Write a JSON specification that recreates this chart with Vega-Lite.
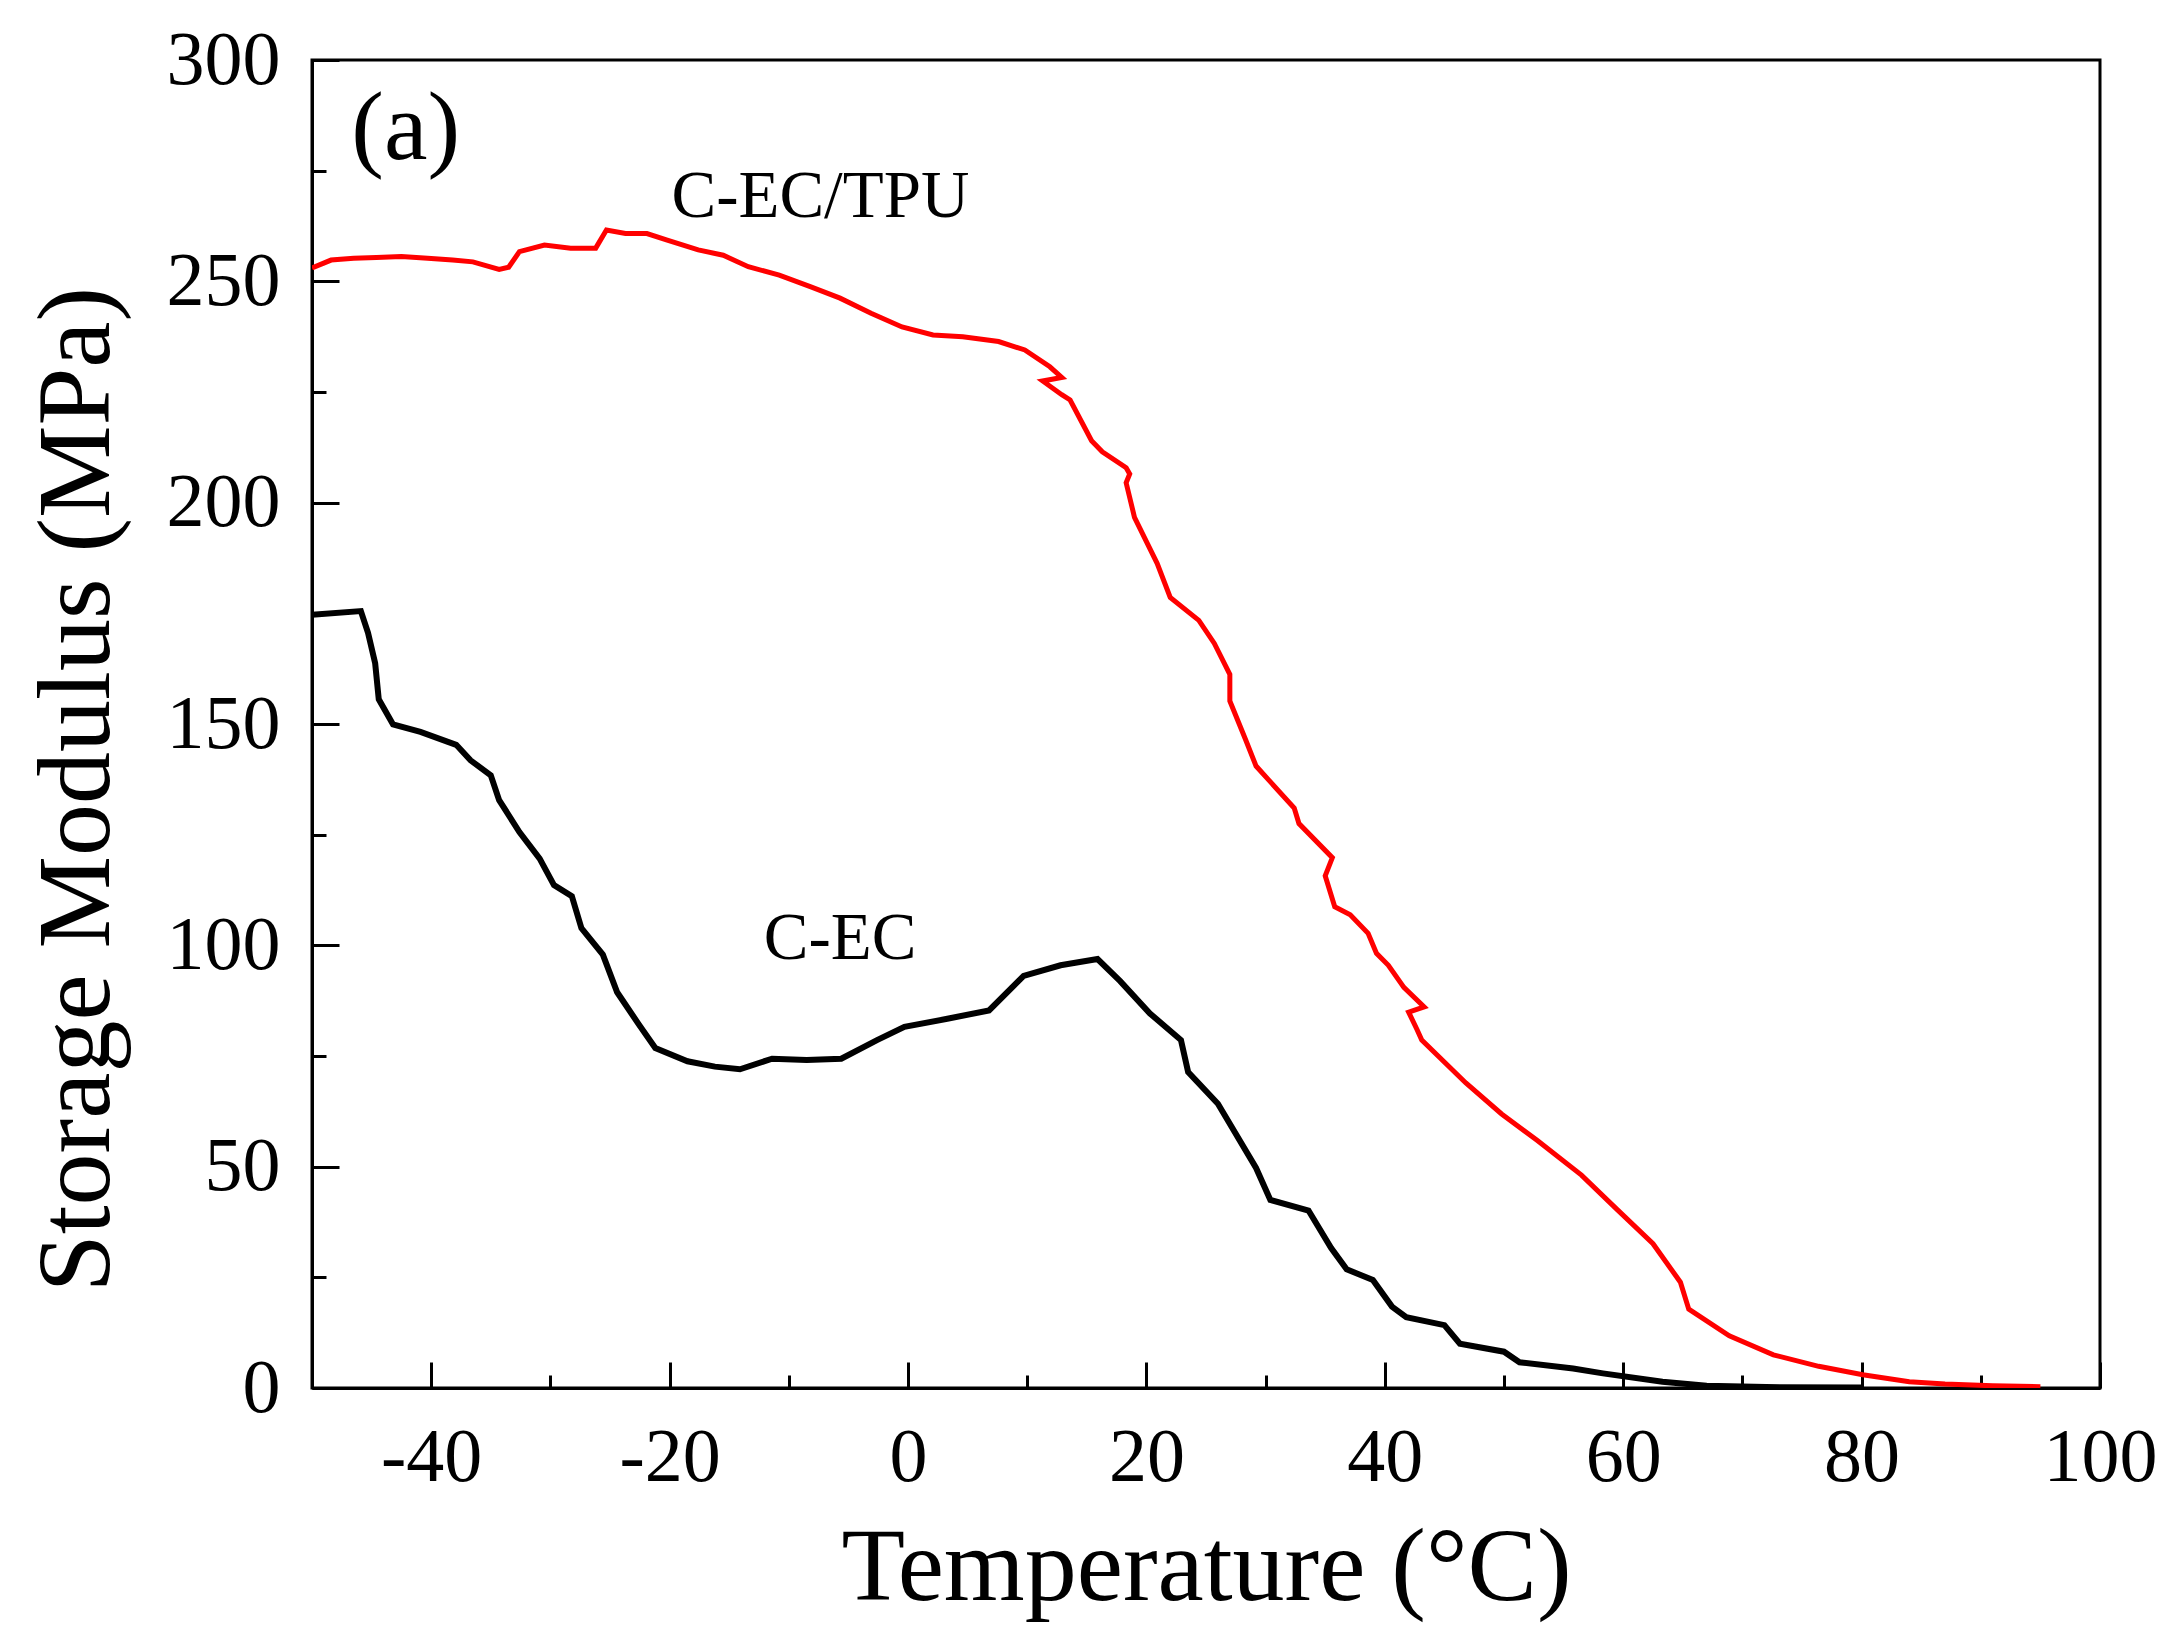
{
  "$schema": "https://vega.github.io/schema/vega-lite/v6.json",
  "autosize": "none",
  "padding": {"left": 312, "top": 60, "right": 80, "bottom": 248},
  "width": 1788,
  "height": 1328,
  "background": "white",
  "config": {
    "view": {"stroke": "black", "strokeWidth": 3},
    "font": "Liberation Serif"
  },
  "datasets": {
    "curves": [
      {"sample": "C-EC/TPU", "i": 0, "T": -50, "E": 253.0},
      {"sample": "C-EC/TPU", "i": 1, "T": -48.4, "E": 254.8},
      {"sample": "C-EC/TPU", "i": 2, "T": -46.5, "E": 255.2},
      {"sample": "C-EC/TPU", "i": 3, "T": -44.6, "E": 255.4},
      {"sample": "C-EC/TPU", "i": 4, "T": -42.5, "E": 255.6},
      {"sample": "C-EC/TPU", "i": 5, "T": -40.3, "E": 255.2},
      {"sample": "C-EC/TPU", "i": 6, "T": -38.2, "E": 254.8},
      {"sample": "C-EC/TPU", "i": 7, "T": -36.5, "E": 254.4},
      {"sample": "C-EC/TPU", "i": 8, "T": -34.3, "E": 252.7},
      {"sample": "C-EC/TPU", "i": 9, "T": -33.5, "E": 253.2},
      {"sample": "C-EC/TPU", "i": 10, "T": -32.6, "E": 256.7},
      {"sample": "C-EC/TPU", "i": 11, "T": -30.5, "E": 258.2},
      {"sample": "C-EC/TPU", "i": 12, "T": -28.3, "E": 257.5},
      {"sample": "C-EC/TPU", "i": 13, "T": -26.2, "E": 257.5},
      {"sample": "C-EC/TPU", "i": 14, "T": -25.3, "E": 261.6},
      {"sample": "C-EC/TPU", "i": 15, "T": -23.7, "E": 260.8},
      {"sample": "C-EC/TPU", "i": 16, "T": -21.9, "E": 260.8},
      {"sample": "C-EC/TPU", "i": 17, "T": -20.2, "E": 259.3},
      {"sample": "C-EC/TPU", "i": 18, "T": -17.6, "E": 257.1},
      {"sample": "C-EC/TPU", "i": 19, "T": -15.5, "E": 255.9},
      {"sample": "C-EC/TPU", "i": 20, "T": -13.4, "E": 253.3},
      {"sample": "C-EC/TPU", "i": 21, "T": -10.8, "E": 251.4},
      {"sample": "C-EC/TPU", "i": 22, "T": -8.2, "E": 248.8},
      {"sample": "C-EC/TPU", "i": 23, "T": -5.7, "E": 246.2},
      {"sample": "C-EC/TPU", "i": 24, "T": -3.1, "E": 242.8},
      {"sample": "C-EC/TPU", "i": 25, "T": -0.5, "E": 239.7},
      {"sample": "C-EC/TPU", "i": 26, "T": 2.1, "E": 237.9},
      {"sample": "C-EC/TPU", "i": 27, "T": 4.6, "E": 237.5},
      {"sample": "C-EC/TPU", "i": 28, "T": 7.6, "E": 236.4},
      {"sample": "C-EC/TPU", "i": 29, "T": 9.8, "E": 234.5},
      {"sample": "C-EC/TPU", "i": 30, "T": 11.9, "E": 230.7},
      {"sample": "C-EC/TPU", "i": 31, "T": 12.9, "E": 228.3},
      {"sample": "C-EC/TPU", "i": 32, "T": 11.3, "E": 227.5},
      {"sample": "C-EC/TPU", "i": 33, "T": 12.9, "E": 224.4},
      {"sample": "C-EC/TPU", "i": 34, "T": 13.6, "E": 223.2},
      {"sample": "C-EC/TPU", "i": 35, "T": 15.4, "E": 214.0},
      {"sample": "C-EC/TPU", "i": 36, "T": 16.3, "E": 211.5},
      {"sample": "C-EC/TPU", "i": 37, "T": 18.3, "E": 207.9},
      {"sample": "C-EC/TPU", "i": 38, "T": 18.6, "E": 206.5},
      {"sample": "C-EC/TPU", "i": 39, "T": 18.3, "E": 204.5},
      {"sample": "C-EC/TPU", "i": 40, "T": 19.0, "E": 196.7},
      {"sample": "C-EC/TPU", "i": 41, "T": 20.9, "E": 186.3},
      {"sample": "C-EC/TPU", "i": 42, "T": 22.0, "E": 178.6},
      {"sample": "C-EC/TPU", "i": 43, "T": 24.4, "E": 173.4},
      {"sample": "C-EC/TPU", "i": 44, "T": 25.7, "E": 168.2},
      {"sample": "C-EC/TPU", "i": 45, "T": 27.0, "E": 161.2},
      {"sample": "C-EC/TPU", "i": 46, "T": 27.0, "E": 155.2},
      {"sample": "C-EC/TPU", "i": 47, "T": 28.3, "E": 146.6},
      {"sample": "C-EC/TPU", "i": 48, "T": 29.2, "E": 140.5},
      {"sample": "C-EC/TPU", "i": 49, "T": 32.4, "E": 131.0},
      {"sample": "C-EC/TPU", "i": 50, "T": 32.8, "E": 127.5},
      {"sample": "C-EC/TPU", "i": 51, "T": 35.6, "E": 119.8},
      {"sample": "C-EC/TPU", "i": 52, "T": 35.0, "E": 115.7},
      {"sample": "C-EC/TPU", "i": 53, "T": 35.8, "E": 108.7},
      {"sample": "C-EC/TPU", "i": 54, "T": 37.1, "E": 106.9},
      {"sample": "C-EC/TPU", "i": 55, "T": 38.6, "E": 102.7},
      {"sample": "C-EC/TPU", "i": 56, "T": 39.3, "E": 98.2},
      {"sample": "C-EC/TPU", "i": 57, "T": 40.3, "E": 95.5},
      {"sample": "C-EC/TPU", "i": 58, "T": 41.6, "E": 90.5},
      {"sample": "C-EC/TPU", "i": 59, "T": 43.3, "E": 86.1},
      {"sample": "C-EC/TPU", "i": 60, "T": 42.0, "E": 84.9},
      {"sample": "C-EC/TPU", "i": 61, "T": 42.7, "E": 81.0},
      {"sample": "C-EC/TPU", "i": 62, "T": 43.1, "E": 78.6},
      {"sample": "C-EC/TPU", "i": 63, "T": 46.8, "E": 68.9},
      {"sample": "C-EC/TPU", "i": 64, "T": 49.8, "E": 61.9},
      {"sample": "C-EC/TPU", "i": 65, "T": 52.8, "E": 55.9},
      {"sample": "C-EC/TPU", "i": 66, "T": 56.5, "E": 48.1},
      {"sample": "C-EC/TPU", "i": 67, "T": 59.5, "E": 40.3},
      {"sample": "C-EC/TPU", "i": 68, "T": 62.5, "E": 32.6},
      {"sample": "C-EC/TPU", "i": 69, "T": 64.8, "E": 23.9},
      {"sample": "C-EC/TPU", "i": 70, "T": 65.5, "E": 17.8},
      {"sample": "C-EC/TPU", "i": 71, "T": 68.9, "E": 11.8},
      {"sample": "C-EC/TPU", "i": 72, "T": 72.6, "E": 7.5},
      {"sample": "C-EC/TPU", "i": 73, "T": 76.4, "E": 4.9},
      {"sample": "C-EC/TPU", "i": 74, "T": 80.1, "E": 3.0},
      {"sample": "C-EC/TPU", "i": 75, "T": 84.0, "E": 1.4},
      {"sample": "C-EC/TPU", "i": 76, "T": 87.0, "E": 0.9},
      {"sample": "C-EC/TPU", "i": 77, "T": 91.0, "E": 0.5},
      {"sample": "C-EC/TPU", "i": 78, "T": 95.0, "E": 0.3},
      {"sample": "C-EC", "i": 0, "T": -50, "E": 174.7},
      {"sample": "C-EC", "i": 1, "T": -45.9, "E": 175.5},
      {"sample": "C-EC", "i": 2, "T": -45.3, "E": 170.6},
      {"sample": "C-EC", "i": 3, "T": -44.7, "E": 163.7},
      {"sample": "C-EC", "i": 4, "T": -44.4, "E": 155.6},
      {"sample": "C-EC", "i": 5, "T": -43.2, "E": 149.9},
      {"sample": "C-EC", "i": 6, "T": -40.9, "E": 148.2},
      {"sample": "C-EC", "i": 7, "T": -37.9, "E": 145.3},
      {"sample": "C-EC", "i": 8, "T": -36.7, "E": 141.8},
      {"sample": "C-EC", "i": 9, "T": -35.0, "E": 138.4},
      {"sample": "C-EC", "i": 10, "T": -34.3, "E": 132.8},
      {"sample": "C-EC", "i": 11, "T": -32.6, "E": 125.6},
      {"sample": "C-EC", "i": 12, "T": -30.9, "E": 119.6},
      {"sample": "C-EC", "i": 13, "T": -29.7, "E": 113.6},
      {"sample": "C-EC", "i": 14, "T": -28.2, "E": 111.1},
      {"sample": "C-EC", "i": 15, "T": -27.4, "E": 103.9},
      {"sample": "C-EC", "i": 16, "T": -25.6, "E": 97.9},
      {"sample": "C-EC", "i": 17, "T": -24.4, "E": 89.4},
      {"sample": "C-EC", "i": 18, "T": -22.6, "E": 82.2},
      {"sample": "C-EC", "i": 19, "T": -21.2, "E": 76.8},
      {"sample": "C-EC", "i": 20, "T": -18.5, "E": 73.8},
      {"sample": "C-EC", "i": 21, "T": -16.2, "E": 72.6},
      {"sample": "C-EC", "i": 22, "T": -14.1, "E": 72.0},
      {"sample": "C-EC", "i": 23, "T": -11.4, "E": 74.4},
      {"sample": "C-EC", "i": 24, "T": -8.5, "E": 74.1},
      {"sample": "C-EC", "i": 25, "T": -5.6, "E": 74.4},
      {"sample": "C-EC", "i": 26, "T": -2.6, "E": 78.6},
      {"sample": "C-EC", "i": 27, "T": -0.3, "E": 81.6},
      {"sample": "C-EC", "i": 28, "T": 3.3, "E": 83.4},
      {"sample": "C-EC", "i": 29, "T": 6.8, "E": 85.3},
      {"sample": "C-EC", "i": 30, "T": 9.7, "E": 93.1},
      {"sample": "C-EC", "i": 31, "T": 12.8, "E": 95.5},
      {"sample": "C-EC", "i": 32, "T": 15.9, "E": 96.9},
      {"sample": "C-EC", "i": 33, "T": 17.8, "E": 91.9},
      {"sample": "C-EC", "i": 34, "T": 20.3, "E": 84.6},
      {"sample": "C-EC", "i": 35, "T": 22.9, "E": 78.6},
      {"sample": "C-EC", "i": 36, "T": 23.5, "E": 71.4},
      {"sample": "C-EC", "i": 37, "T": 26.0, "E": 64.2},
      {"sample": "C-EC", "i": 38, "T": 29.2, "E": 49.7},
      {"sample": "C-EC", "i": 39, "T": 30.4, "E": 42.5},
      {"sample": "C-EC", "i": 40, "T": 33.6, "E": 40.1},
      {"sample": "C-EC", "i": 41, "T": 35.5, "E": 31.6},
      {"sample": "C-EC", "i": 42, "T": 36.8, "E": 26.8},
      {"sample": "C-EC", "i": 43, "T": 39.0, "E": 24.4},
      {"sample": "C-EC", "i": 44, "T": 40.6, "E": 18.4},
      {"sample": "C-EC", "i": 45, "T": 41.8, "E": 16.0},
      {"sample": "C-EC", "i": 46, "T": 45.0, "E": 14.2},
      {"sample": "C-EC", "i": 47, "T": 46.3, "E": 10.0},
      {"sample": "C-EC", "i": 48, "T": 50.0, "E": 8.2},
      {"sample": "C-EC", "i": 49, "T": 51.3, "E": 5.8},
      {"sample": "C-EC", "i": 50, "T": 55.8, "E": 4.4},
      {"sample": "C-EC", "i": 51, "T": 58.3, "E": 3.3},
      {"sample": "C-EC", "i": 52, "T": 63.3, "E": 1.4},
      {"sample": "C-EC", "i": 53, "T": 67.0, "E": 0.5},
      {"sample": "C-EC", "i": 54, "T": 72.0, "E": 0.2},
      {"sample": "C-EC", "i": 55, "T": 80.0, "E": 0.1}
    ]
  },
  "layer": [
    {
      "data": {"name": "curves"},
      "mark": {"type": "line", "clip": true},
      "encoding": {
        "x": {
          "field": "T",
          "type": "quantitative",
          "scale": {"domain": [-50, 100], "nice": false, "zero": false},
          "axis": {
            "title": "Temperature (°C)",
            "titleFont": "Liberation Serif",
            "titleFontSize": 104,
            "titleFontWeight": "normal",
            "titleColor": "black",
            "titleBaseline": "alphabetic",
            "titleY": 211,
            "values": [-50, -40, -30, -20, -10, 0, 10, 20, 30, 40, 50, 60, 70, 80, 90, 100],
            "labelExpr": "datum.value % 20 === 0 ? datum.value + '' : ''",
            "labelFont": "Liberation Serif",
            "labelFontSize": 76,
            "labelColor": "black",
            "labelBaseline": "alphabetic",
            "labelPadding": 118,
            "labelFlush": false,
            "labelOverlap": false,
            "grid": false,
            "domainColor": "black",
            "domainWidth": 3,
            "tickColor": "black",
            "tickWidth": 3,
            "tickSize": {"condition": {"test": "datum.value % 20 === 0", "value": -26}, "value": -13}
          }
        },
        "y": {
          "field": "E",
          "type": "quantitative",
          "scale": {"domain": [0, 300], "nice": false},
          "axis": {
            "title": "Storage Modulus (MPa)",
            "titleFont": "Liberation Serif",
            "titleFontSize": 104,
            "titleFontWeight": "normal",
            "titleColor": "black",
            "titleBaseline": "alphabetic",
            "titleAlign": "center",
            "titleAngle": -90,
            "titleX": -204,
            "titleY": 729,
            "values": [0, 25, 50, 75, 100, 125, 150, 175, 200, 225, 250, 275, 300],
            "labelExpr": "datum.value % 50 === 0 ? datum.value + '' : ''",
            "labelFont": "Liberation Serif",
            "labelFontSize": 76,
            "labelColor": "black",
            "labelPadding": 59,
            "labelFlush": false,
            "labelOverlap": false,
            "grid": false,
            "domainColor": "black",
            "domainWidth": 3,
            "tickColor": "black",
            "tickWidth": 3,
            "tickSize": {"condition": {"test": "datum.value % 50 === 0", "value": -27}, "value": -14}
          }
        },
        "color": {
          "field": "sample",
          "type": "nominal",
          "scale": {"domain": ["C-EC/TPU", "C-EC"], "range": ["#ff0000", "#000000"]},
          "legend": null
        },
        "strokeWidth": {
          "field": "sample",
          "type": "nominal",
          "scale": {"domain": ["C-EC/TPU", "C-EC"], "range": [5, 6]},
          "legend": null
        },
        "order": {"field": "i", "type": "quantitative"}
      }
    },
    {
      "data": {"values": [{"T": -46.7, "E": 277.6, "label": "(a)"}]},
      "mark": {"type": "text", "font": "Liberation Serif", "fontSize": 98, "align": "left", "baseline": "alphabetic", "color": "black"},
      "encoding": {
        "x": {"field": "T", "type": "quantitative"},
        "y": {"field": "E", "type": "quantitative"},
        "text": {"field": "label"}
      }
    },
    {
      "data": {"values": [
        {"T": -7.35, "E": 264.5, "label": "C-EC/TPU"},
        {"T": -5.7, "E": 97.0, "label": "C-EC"}
      ]},
      "mark": {"type": "text", "font": "Liberation Serif", "fontSize": 67, "align": "center", "baseline": "alphabetic", "color": "black"},
      "encoding": {
        "x": {"field": "T", "type": "quantitative"},
        "y": {"field": "E", "type": "quantitative"},
        "text": {"field": "label"}
      }
    }
  ]
}
